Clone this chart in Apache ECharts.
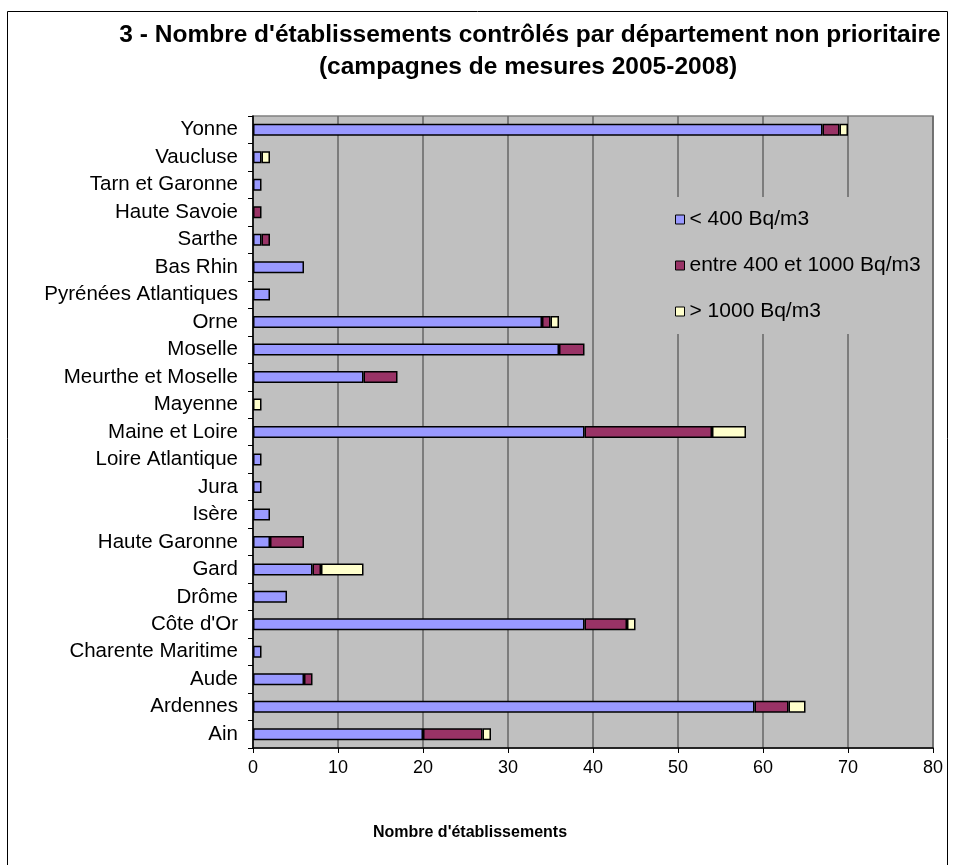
<!DOCTYPE html>
<html><head><meta charset="utf-8">
<script src="https://cdn.jsdelivr.net/npm/echarts@6/dist/echarts.min.js"></script>
<style>html,body{margin:0;padding:0;background:#fff}#c{width:955px;height:865px}</style>
</head><body><div id="c"></div>
<script>
const categories = ["Ain","Ardennes","Aude","Charente Maritime","Côte d'Or","Drôme","Gard","Haute Garonne","Isère","Jura","Loire Atlantique","Maine et Loire","Mayenne","Meurthe et Moselle","Moselle","Orne","Pyrénées Atlantiques","Bas Rhin","Sarthe","Haute Savoie","Tarn et Garonne","Vaucluse","Yonne"];
const below400 = [20,59,6,1,39,4,7,2,2,1,1,39,0,13,36,34,2,6,1,0,1,1,67];
const between400_1000 = [7,4,1,0,5,0,1,4,0,0,0,15,0,4,3,1,0,0,1,1,0,0,2];
const above1000 = [1,2,0,0,1,0,5,0,0,0,0,4,1,0,0,1,0,0,0,0,0,1,1];
const seriesNames = ["< 400 Bq/m3","entre 400 et 1000 Bq/m3","> 1000 Bq/m3"];
const xTicks = {min:0,max:80,interval:10};
const titleLines = ["3 - Nombre d'établissements contrôlés par département non prioritaire","(campagnes de mesures 2005-2008)"];
const xAxisTitle = "Nombre d'établissements";

const FONT = "Liberation Sans, Arial, sans-serif";
const colors = ["#9999FF","#993366","#FFFFCC"];
const chart = echarts.init(document.getElementById('c'));
function mk(name, data, color){
  return {name, type:'bar', stack:'s', data: data.map(v=>v===0?null:v), barWidth:12,
    itemStyle:{color, borderColor:'#000', borderWidth:1.5}};
}
chart.setOption({
  animation:false,
  grid:{left:253, right:22, top:116, bottom:117, show:true, backgroundColor:'#C0C0C0', borderColor:'#808080', borderWidth:1.5},
  xAxis:{type:'value', min:xTicks.min, max:xTicks.max, interval:xTicks.interval,
    axisLine:{show:true, lineStyle:{color:'#000', width:1.5}},
    axisTick:{show:true, length:5, lineStyle:{color:'#000'}},
    axisLabel:{color:'#000', fontSize:18, fontFamily:FONT, margin:11},
    splitLine:{show:true, lineStyle:{color:'#666', width:1.5}}},
  yAxis:{type:'category', data:categories,
    axisLine:{show:true, lineStyle:{color:'#000', width:1.5}},
    axisTick:{show:true, length:5, lineStyle:{color:'#000'}},
    axisLabel:{color:'#000', fontSize:20.5, fontFamily:FONT, margin:15}},
  legend:{orient:'vertical', left:645, top:197, backgroundColor:'#C0C0C0',
    padding:[12,10,12,30], itemGap:25, itemWidth:9, itemHeight:9, icon:'rect',
    textStyle:{color:'#000', fontSize:21, fontFamily:FONT},
    itemStyle:{borderColor:'#000', borderWidth:1},
    data:seriesNames},
  series:[mk(seriesNames[0],below400,colors[0]), mk(seriesNames[1],between400_1000,colors[1]), mk(seriesNames[2],above1000,colors[2])],
  graphic:[
    {type:'rect', shape:{x:7.5,y:11.5,width:940,height:870}, style:{fill:null, stroke:'#000', lineWidth:1}, z:-1},
    {type:'text', x:530, y:35, style:{text:titleLines[0], font:'bold 24.5px '+FONT, fill:'#000', textAlign:'center', textVerticalAlign:'middle'}},
    {type:'text', x:528, y:67, style:{text:titleLines[1], font:'bold 24.5px '+FONT, fill:'#000', textAlign:'center', textVerticalAlign:'middle'}},
    {type:'text', x:470, y:833, style:{text:xAxisTitle, font:'bold 16px '+FONT, fill:'#000', textAlign:'center', textVerticalAlign:'middle'}}
  ]
});
</script></body></html>
